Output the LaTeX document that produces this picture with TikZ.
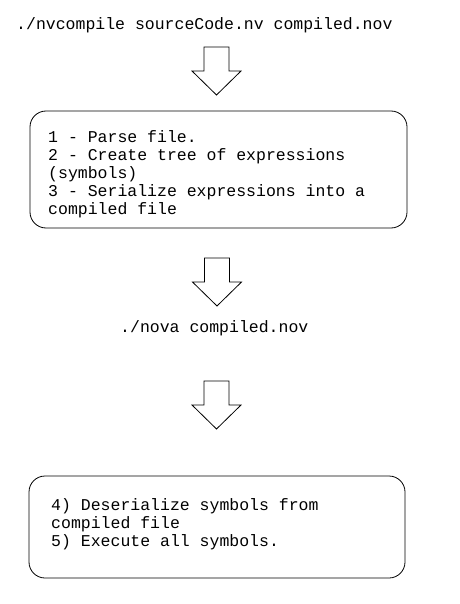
\documentclass[tikz,border=0pt]{standalone}
\usepackage{fontspec}
\setmonofont{Liberation Mono}
\begin{document}
\begin{tikzpicture}[x=1pt,y=-1pt,
  every node/.style={font=\ttfamily\fontsize{16.5}{18}\selectfont, inner sep=0pt},
  stepbox/.style={draw, line width=0.8pt, rounded corners=16pt},
  blockarrow/.pic={\draw[line width=0.8pt, fill=white]
     (-12.5,0) -- (12.5,0) -- (12.5,24) -- (24.5,24) -- (0,48) -- (-24.5,24) -- (-12.5,24) -- cycle;}]
\useasboundingbox (0,0) rectangle (459,604);
\fill[white] (0,0) rectangle (459,604);

\node[anchor=base west] (cmd1) at (16,30) {./nvcompile sourceCode.nv compiled.nov};

\coordinate (a1) at (216.5,47);
\pic at (a1) {blockarrow};

\draw[stepbox] (30,111) rectangle (407,228);
\node[anchor=base west, align=left] (t1) at (48,214)
  {1 - Parse file.\\2 - Create tree of expressions\\(symbols)\\3 - Serialize expressions into a\\compiled file};

\coordinate (a2) at (217,258);
\pic at (a2) {blockarrow};

\node[anchor=base west] (cmd2) at (120,332) {./nova compiled.nov};

\coordinate (a3) at (216.5,381);
\pic at (a3) {blockarrow};

\draw[stepbox] (29,476) rectangle (405,578);
\node[anchor=base west, align=left] (t2) at (51,546)
  {4) Deserialize symbols from\\compiled file\\5) Execute all symbols.};
\end{tikzpicture}
\end{document}
